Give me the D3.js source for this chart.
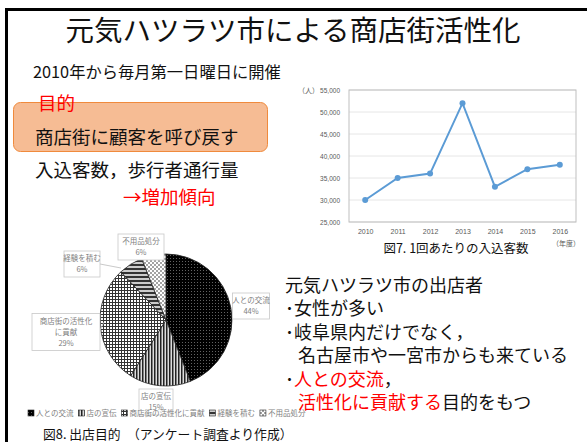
<!DOCTYPE html>
<html lang="ja">
<head>
<meta charset="UTF-8">
<title>元気ハツラツ市による商店街活性化</title>
<script src="https://d3js.org/d3.v7.min.js"></script>
<style>
  body { margin: 0; background: #fff; }
  svg { display: block; font-family: "Noto Sans CJK JP", "Noto Sans", sans-serif; }
</style>
</head>
<body>
<svg width="587" height="442"></svg>
<script>
// line chart data (図7)
const years = ["2010", "2011", "2012", "2013", "2014", "2015", "2016"];
const visitors = [30000, 35000, 36000, 52000, 33000, 37000, 38000];
const yTicks = [25000, 30000, 35000, 40000, 45000, 50000, 55000];

// pie chart data (図8)
const purposeLabels = ["人との交流", "店の宣伝", "商店街の活性化に貢献", "経験を積む", "不用品処分"];
const purposeValues = [44, 15, 29, 6, 6];

const svg = d3.select("svg");

// slide frame
svg.append("rect").attr("x", 6.5).attr("y", 9.5).attr("width", 620).attr("height", 460)
    .attr("fill", "none").attr("stroke", "#000").attr("stroke-width", 3);

// title and left text block
svg.append("text").attr("x", 293).attr("y", 41).attr("text-anchor", "middle")
    .attr("font-size", 28.5).attr("fill", "#111").text("元気ハツラツ市による商店街活性化");
svg.append("text").attr("x", 33).attr("y", 78).attr("font-size", 16.3)
    .attr("fill", "#111").text("2010年から毎月第一日曜日に開催");

svg.append("rect").attr("x", 13.5).attr("y", 102.5).attr("width", 254).attr("height", 49).attr("rx", 7)
    .attr("fill", "#F6BC94").attr("stroke", "#F08A3C").attr("stroke-width", 1);
svg.append("text").attr("x", 38).attr("y", 110).attr("font-size", 18.5)
    .attr("fill", "#f00").text("目的");
svg.append("text").attr("x", 35).attr("y", 144).attr("font-size", 18.5)
    .attr("fill", "#111").text("商店街に顧客を呼び戻す");
svg.append("text").attr("x", 35).attr("y", 177).attr("font-size", 18.5)
    .attr("fill", "#111").text("入込客数，歩行者通行量");
svg.append("text").attr("x", 123).attr("y", 204).attr("font-size", 18.5)
    .attr("fill", "#f00").text("→増加傾向");

// ---------- line chart ----------
const plot = { left: 349, right: 576, top: 90, bottom: 222 };
const x = d3.scalePoint().domain(years).range([plot.left, plot.right]).padding(0.5);
const y = d3.scaleLinear().domain([25000, 55000]).range([plot.bottom, plot.top]);

const lc = svg.append("g");
lc.selectAll(".grid").data(yTicks).join("line")
    .attr("x1", plot.left).attr("x2", plot.right)
    .attr("y1", d => y(d)).attr("y2", d => y(d))
    .attr("stroke", "#e6e6e6").attr("stroke-width", 1);
lc.append("rect").attr("x", plot.left).attr("y", plot.top)
    .attr("width", plot.right - plot.left).attr("height", plot.bottom - plot.top)
    .attr("fill", "none").attr("stroke", "#bfbfbf").attr("stroke-width", 1);

const yAxis = lc.append("g").attr("transform", `translate(${plot.left - 6},0)`)
    .call(d3.axisLeft(y).tickValues(yTicks).tickSize(0).tickFormat(d3.format(",")));
yAxis.select(".domain").remove();
yAxis.selectAll("text").attr("font-size", 6.5).attr("fill", "#595959").attr("font-family", "Liberation Sans, sans-serif");

const xAxis = lc.append("g").attr("transform", `translate(0,${plot.bottom + 4})`)
    .call(d3.axisBottom(x).tickSize(0));
xAxis.select(".domain").remove();
xAxis.selectAll("text").attr("font-size", 7).attr("fill", "#595959").attr("font-family", "Liberation Sans, sans-serif");

lc.append("path").datum(visitors)
    .attr("fill", "none").attr("stroke", "#5B9BD5").attr("stroke-width", 2)
    .attr("d", d3.line().x((d, i) => x(years[i])).y(d => y(d)));
lc.selectAll(".pt").data(visitors).join("circle")
    .attr("cx", (d, i) => x(years[i])).attr("cy", d => y(d)).attr("r", 3)
    .attr("fill", "#5B9BD5");

lc.append("text").attr("x", 298).attr("y", 93).attr("font-size", 7).attr("fill", "#595959").text("（人）");
lc.append("text").attr("x", 552).attr("y", 246).attr("font-size", 7).attr("fill", "#595959").text("（年度）");
lc.append("text").attr("x", 456).attr("y", 253).attr("text-anchor", "middle")
    .attr("font-size", 12.5).attr("fill", "#111").text("図7. 1回あたりの入込客数");

// ---------- pie chart ----------
const defs = svg.append("defs");
function pat(id, w, h, draw) {
    const p = defs.append("pattern").attr("id", id).attr("patternUnits", "userSpaceOnUse")
        .attr("width", w).attr("height", h);
    draw(p);
}
pat("p0", 3, 3, p => {
    p.append("rect").attr("width", 3).attr("height", 3).attr("fill", "#000");
    p.append("rect").attr("x", 1).attr("y", 1).attr("width", 0.8).attr("height", 0.8).attr("fill", "#999");
});
pat("p1", 3, 3, p => {
    p.append("rect").attr("width", 3).attr("height", 3).attr("fill", "#ddd");
    p.append("rect").attr("width", 1.5).attr("height", 3).attr("fill", "#222");
});
pat("p2", 3, 3, p => {
    p.append("rect").attr("width", 3).attr("height", 3).attr("fill", "#fff");
    p.append("rect").attr("width", 3).attr("height", 1).attr("fill", "#333");
    p.append("rect").attr("width", 1).attr("height", 3).attr("fill", "#333");
});
pat("p3", 4, 4, p => {
    p.append("rect").attr("width", 4).attr("height", 4).attr("fill", "#ccc");
    p.append("rect").attr("width", 4).attr("height", 2).attr("fill", "#333");
});
pat("p4", 4, 4, p => {
    p.append("rect").attr("width", 4).attr("height", 4).attr("fill", "#fff");
    p.append("circle").attr("cx", 1).attr("cy", 1).attr("r", 0.7).attr("fill", "#000");
    p.append("circle").attr("cx", 3).attr("cy", 3).attr("r", 0.7).attr("fill", "#000");
});

const pieCx = 166, pieCy = 320, pieR = 66;
const pie = d3.pie().sort(null).value(d => d);
const arc = d3.arc().innerRadius(0).outerRadius(pieR);
const pg = svg.append("g").attr("transform", `translate(${pieCx},${pieCy})`);
pg.selectAll("path").data(pie(purposeValues)).join("path")
    .attr("d", arc).attr("fill", (d, i) => `url(#p${i})`)
    .attr("stroke", "#222").attr("stroke-width", 0.8);

// data label boxes (centre x, centre y, lines)
const labelBoxes = [
    { cx: 251, cy: 306, w: 37, lines: ["人との交流"] },
    { cx: 156, cy: 402, w: 34, lines: ["店の宣伝"] },
    { cx: 66, cy: 332, w: 68, lines: ["商店街の活性化", "に貢献"] },
    { cx: 82, cy: 264, w: 36, lines: ["経験を積む"] },
    { cx: 141, cy: 247, w: 46, lines: ["不用品処分"] }
];
// leader lines
const leaders = [[100, 264, 121, 268], [100, 330, 104, 322]];
svg.selectAll(".leader").data(leaders).join("line")
    .attr("x1", d => d[0]).attr("y1", d => d[1]).attr("x2", d => d[2]).attr("y2", d => d[3])
    .attr("stroke", "#bbb").attr("stroke-width", 0.8);

labelBoxes.forEach((b, i) => {
    const lines = b.lines.concat([purposeValues[i] + "%"]);
    const lh = 11;
    const h = lines.length * lh + 4;
    const g = svg.append("g");
    g.append("rect").attr("x", b.cx - b.w / 2).attr("y", b.cy - h / 2)
        .attr("width", b.w).attr("height", h)
        .attr("fill", "#fff").attr("stroke", "#c8c8c8").attr("stroke-width", 0.8);
    lines.forEach((t, k) => {
        g.append("text").attr("x", b.cx).attr("y", b.cy - h / 2 + 10 + k * lh)
            .attr("text-anchor", "middle").attr("font-size", 7.5).attr("fill", "#808080").text(t);
    });
});

// legend
let lx = 28;
purposeLabels.forEach((name, i) => {
    svg.append("rect").attr("x", lx).attr("y", 410).attr("width", 6).attr("height", 6)
        .attr("fill", `url(#p${i})`).attr("stroke", "#222").attr("stroke-width", 0.6);
    const t = svg.append("text").attr("x", lx + 8).attr("y", 416).attr("font-size", 7.5)
        .attr("fill", "#808080").text(name);
    lx += 8 + t.node().getComputedTextLength() + 5;
});
svg.append("text").attr("x", 43).attr("y", 439).attr("font-size", 12.8)
    .attr("fill", "#111").text("図8. 出店目的　（アンケート調査より作成）");

// right text block
const rt = svg.append("g").attr("font-size", 18).attr("fill", "#111");
const rows = [
    [[285, "元気ハツラツ市の出店者", "#111"]],
    [[285, "･女性が多い", "#111"]],
    [[285, "･岐阜県内だけでなく，", "#111"]],
    [[298, "名古屋市や一宮市からも来ている", "#111"]],
    [[285, "･", "#111"], [null, "人との交流", "#f00"], [null, "，", "#111"]],
    [[298, "活性化に貢献する", "#f00"], [null, "目的をもつ", "#111"]]
];
rows.forEach((r, k) => {
    const t = rt.append("text").attr("y", 292 + k * 23.4);
    r.forEach(([px, s, c]) => {
        const sp = t.append("tspan").attr("fill", c).text(s);
        if (px !== null) sp.attr("x", px);
    });
});
</script>
</body>
</html>
